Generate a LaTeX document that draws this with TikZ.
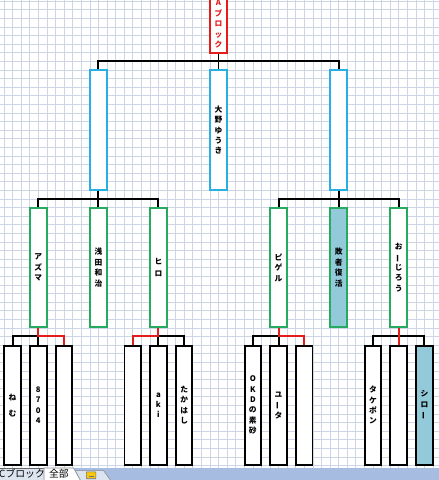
\documentclass[tikz,border=0pt]{standalone}
\usepackage{fontspec}
\newfontfamily\jp{Noto Sans CJK JP}
\usetikzlibrary{calc}

\definecolor{cellline}{RGB}{206,214,230}
\definecolor{boxcyan}{RGB}{40,176,228}
\definecolor{boxgreen}{RGB}{38,170,96}
\definecolor{winred}{RGB}{228,28,28}
\definecolor{seedfill}{RGB}{146,202,218}
\definecolor{tabbar}{RGB}{166,188,224}
\definecolor{tabgray}{RGB}{220,228,240}

\newcommand{\vlong}{\rotatebox[origin=c]{90}{ー}}

\begin{document}
\begin{tikzpicture}[
	x=0.2145cm, y=0.215cm,
	font=\jp\bfseries\fontsize{5.5}{7.4}\selectfont,
	entry/.style={
		draw=black,
		line width=1.4pt,
		fill=white,
		inner sep=0pt,
		minimum width=4.1mm,
		minimum height=29.8mm,
		align=center,
	},
	quarter/.style={entry, draw=boxgreen},
	semi/.style={entry, draw=boxcyan},
	block/.style={entry, draw=winred, text=winred, minimum height=14.2mm},
	seed/.style={fill=seedfill},
	wire/.style={line width=1.4pt, black},
	win/.style={line width=1.4pt, winred},
	cell/.style={cellline, line width=0.4pt},
	tab/.style={font=\jp\fontsize{7}{8}\selectfont, inner sep=1pt},
]

% --- Blatt und Gitter ---
\useasboundingbox (-0.466,-1.698) rectangle (50.70,54.116);
\fill[white] (-0.466,-1.698) rectangle (50.70,54.116);
\foreach \i in {0,...,50}
	\draw[cell] (\i,-0.3) -- (\i,54.2);
\foreach \j in {0,...,54}
	\draw[cell] (-0.5,\j) -- (50.8,\j);

% --- Kaestchen ---
\node[block] (blk) at (25,51.3) {A\\ブ\\ロ\\ッ\\ク};

\node[semi] (c1) at (11,39) {};
\node[semi] (c2) at (25,39) {大\\野\\ゆ\\う\\き};
\node[semi] (c3) at (39,39) {};

\node[quarter] (g1) at (4,23)  {ア\\ズ\\マ};
\node[quarter] (g2) at (11,23) {浅\\田\\和\\治};
\node[quarter] (g3) at (18,23) {ヒ\\[1pt]ロ};
\node[quarter] (g4) at (32,23) {ピ\\ゲ\\ル};
\node[quarter, seed] (g5) at (39,23) {敗\\者\\復\\活};
\node[quarter] (g6) at (46,23) {お\\\vlong\\じ\\ろ\\う};

\node[entry] (b1)  at (1,7)  {ね\\[4pt]む};
\node[entry] (b2)  at (4,7)  {8\\7\\0\\4};
\node[entry] (b3)  at (7,7)  {};
\node[entry] (b4)  at (15,7) {};
\node[entry] (b5)  at (18,7) {a\\k\\i};
\node[entry] (b6)  at (21,7) {た\\か\\は\\し};
\node[entry] (b7)  at (29,7) {O\\K\\D\\の\\素\\砂};
\node[entry] (b8)  at (32,7) {ユ\\\vlong\\タ};
\node[entry] (b9)  at (35,7) {};
\node[entry] (b10) at (43,7) {タ\\ケ\\ポ\\ン};
\node[entry] (b11) at (46,7) {};
\node[entry, seed] (b12) at (49,7) {シ\\ロ\\\vlong};

% --- Verzweigungen ---
\coordinate (j0) at (25,47);
\coordinate (j1) at (11,31);
\coordinate (j2) at (39,31);
\coordinate (j3) at (4,15);
\coordinate (j4) at (18,15);
\coordinate (j5) at (32,15);
\coordinate (j6) at (46,15);

\draw[wire] (blk.south) -- (c2.north);
\draw[wire] (c1.north) |- (j0) -| (c3.north);
\draw[wire] (c1.south) -- (g2.north);
\draw[wire] (g1.north) |- (j1) -| (g3.north);
\draw[wire] (c3.south) -- (g5.north);
\draw[wire] (g4.north) |- (j2) -| (g6.north);

\draw[wire] (b1.north) |- (j3) -- (b2.north);
\draw[wire] (b6.north) |- (j4) -- (b5.north);
\draw[wire] (b7.north) |- (j5) -- (b8.north);
\draw[wire] (b10.north) |- (j6) -| (b12.north);

% --- Siegerlinien ---
\draw[win] (g1.south) -- (j3) -| (b3.north);
\draw[win] (g3.south) -- (j4) -| (b4.north);
\draw[win] (g4.south) -- (j5) -| (b9.north);
\draw[win] (g6.south) -- (b11.north);

% --- Blattregister ---
\fill[tabbar] (-0.466,-1.698) rectangle (50.70,-0.3);
\draw[black!60, fill=tabgray] (-0.6,-1.698) -- (-0.6,-0.3) -- (4.66,-0.3) -- (4.66,-1.698);
\draw[black!45, fill=white] (4.66,-1.698) -- (4.66,-0.3) -- (8.1,-0.3) -- (8.9,-1.698);
\draw[black!45, fill=tabgray] (8.9,-1.698) -- (8.3,-0.6) -- (11.6,-0.6) -- (12.4,-1.698);
\node[tab, anchor=west] (tabC) at (-0.75,-1.0) {Cブロック};
\node[tab] (tabAll) at (6.4,-1.0) {全部};
\draw[black!55, fill=yellow!60!orange, rounded corners=0.3pt] (9.6,-1.55) rectangle (10.7,-0.75);
\draw[black!55] (9.85,-1.3) -- (10.45,-1.3);

\end{tikzpicture}
\end{document}
